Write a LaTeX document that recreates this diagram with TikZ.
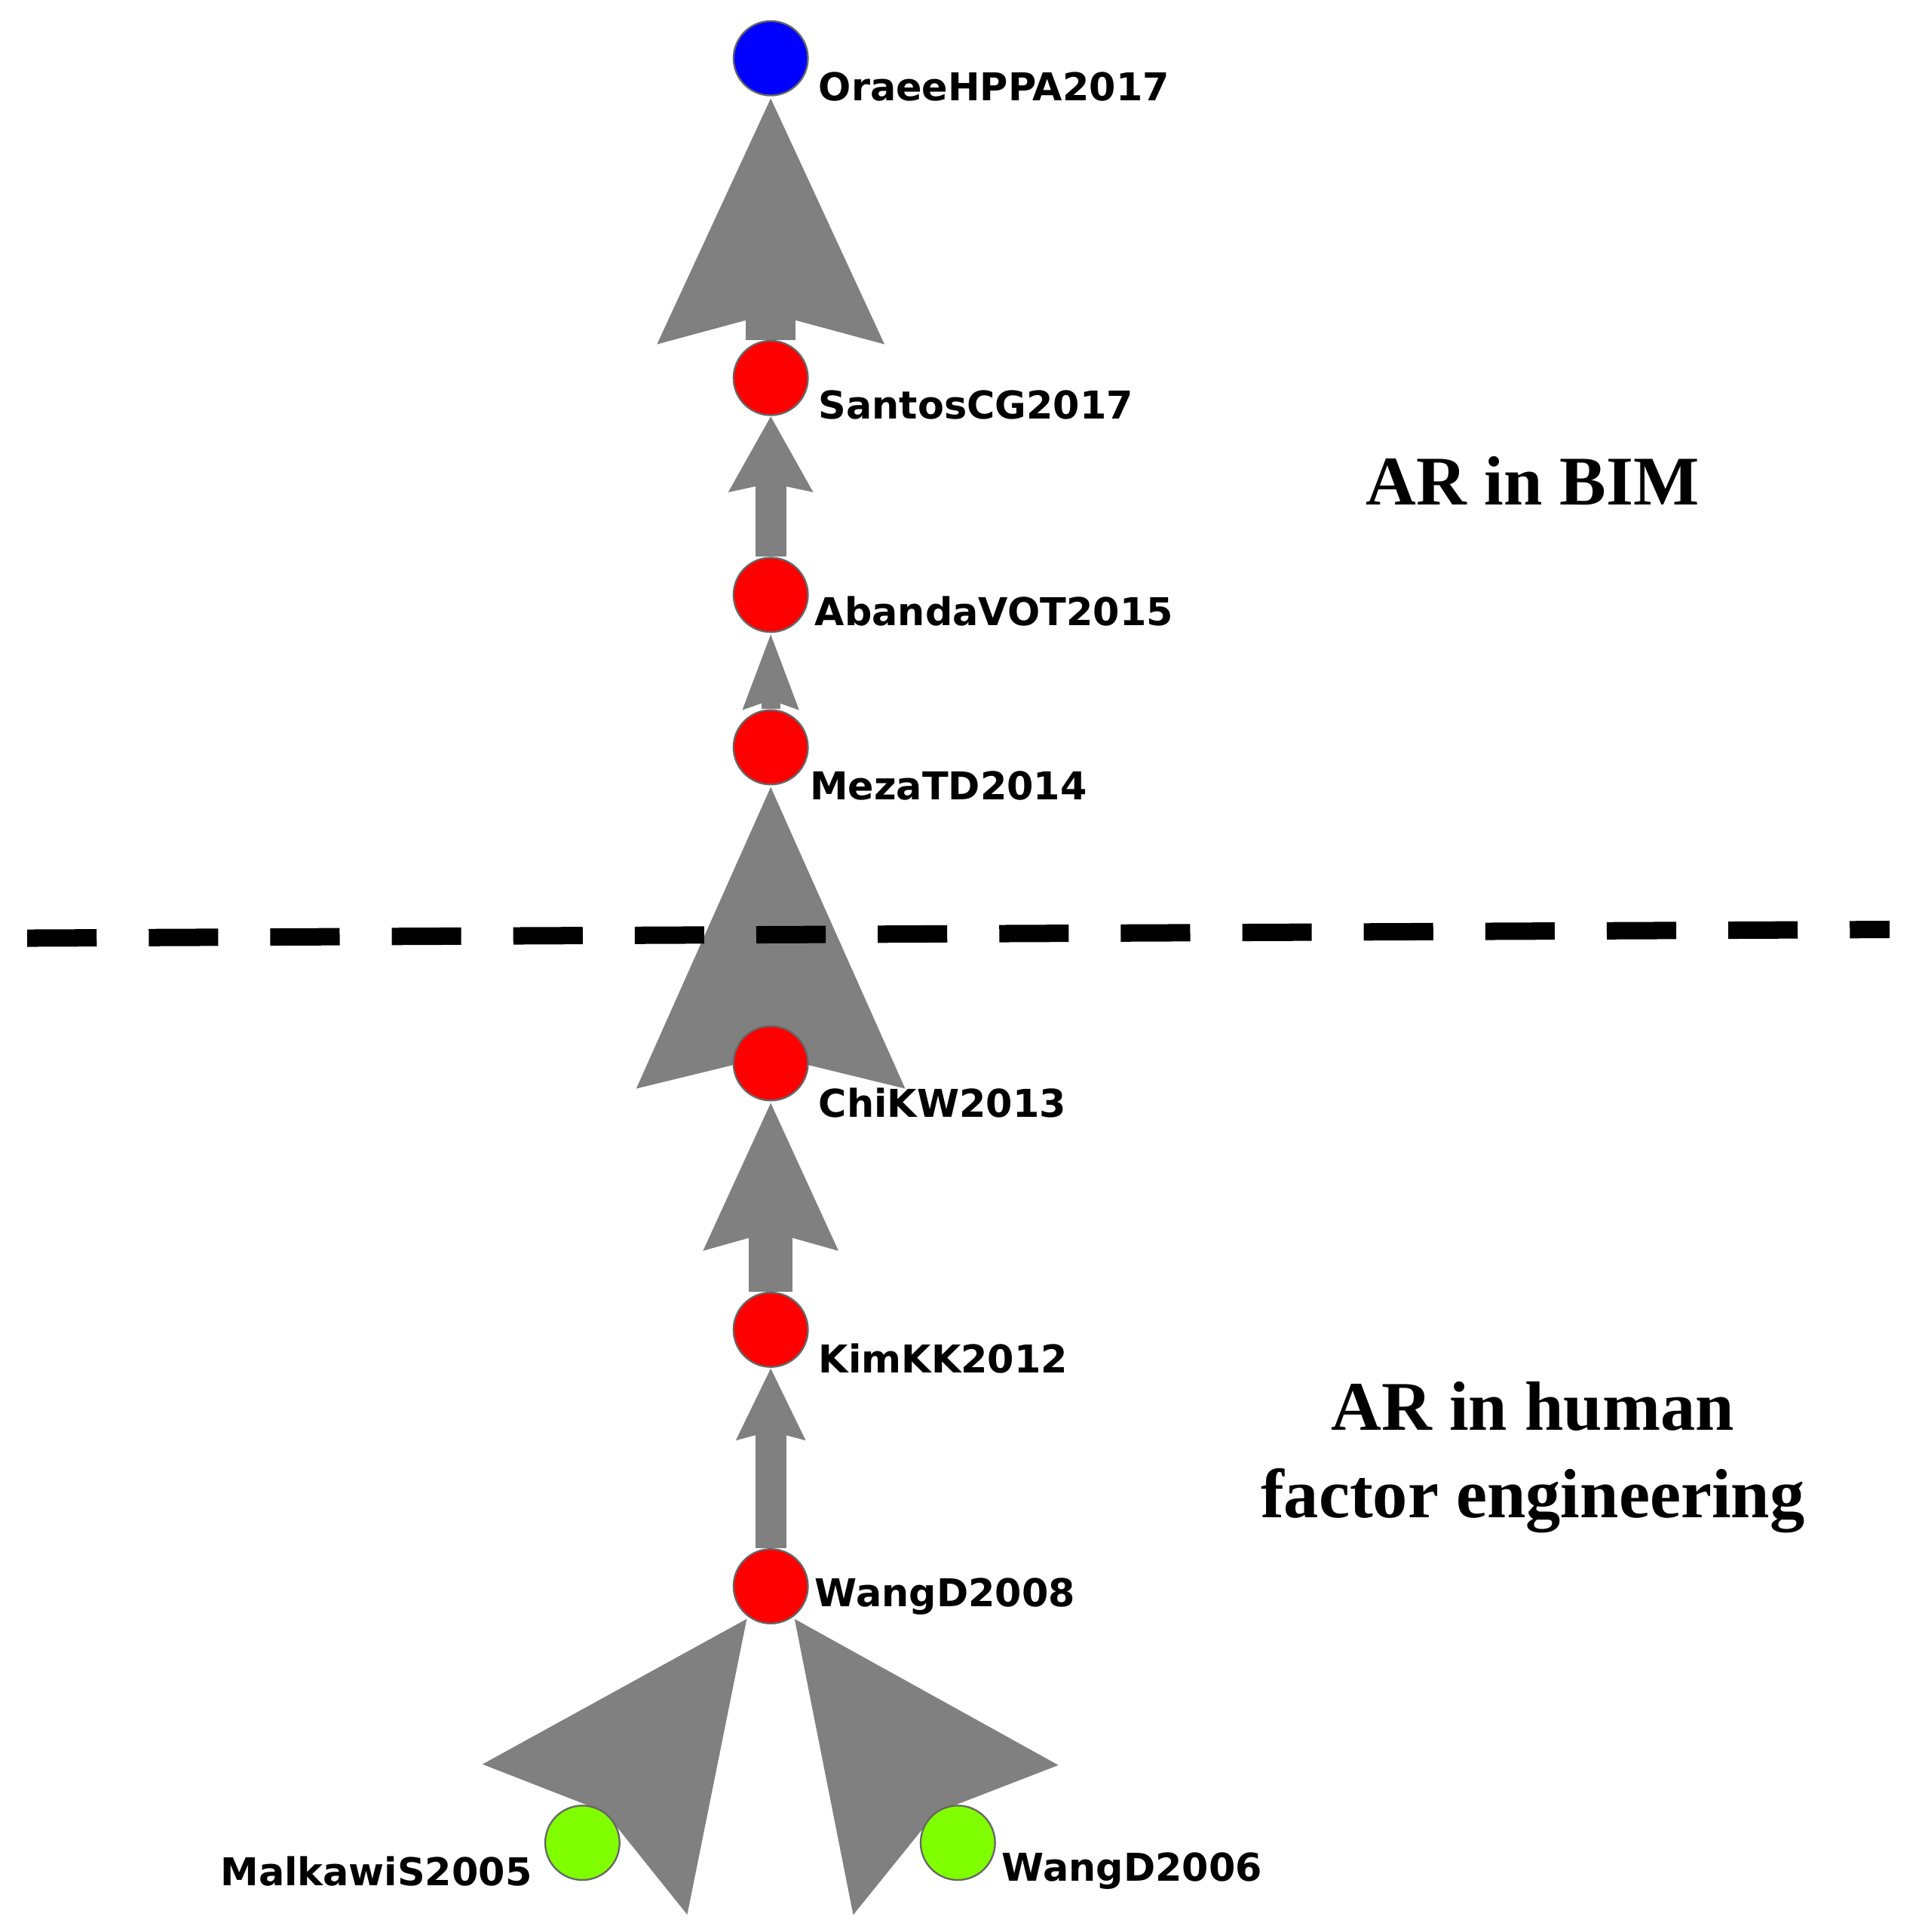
\documentclass[tikz,border=0pt]{standalone}
\usepackage{fontspec}
\setmainfont{Liberation Serif}
\newfontfamily\lblfont{DejaVu Sans}
\usetikzlibrary{arrows.meta,backgrounds}

\definecolor{gry}{RGB}{128,128,128}
\definecolor{grn}{RGB}{128,255,0}
\tikzset{
  paper/.style={circle, minimum size=0.6cm, inner sep=0pt, draw=black!60, line width=0.4pt},
  lbl/.style={font=\lblfont\bfseries\fontsize{8.8}{10}\selectfont, inner sep=0pt},
  flow/.style n args={4}{draw=gry, line width=#1,
    -{Stealth[length=#2, width=#3, inset=#4, fill=gry]}},
  topic/.style={font=\bfseries\fontsize{16}{20}\selectfont, align=center}
}

\begin{document}
\begin{tikzpicture}[x=0.01cm, y=-0.01cm]
  \useasboundingbox (0,0) rectangle (1553,1559);
  % papers
  \node[paper, fill=blue] (oraee) at (622,47) {};
  \node[paper, fill=red] (santos) at (622,305) {};
  \node[paper, fill=red] (abanda) at (622,480) {};
  \node[paper, fill=red] (meza) at (622,603) {};
  \node[paper, fill=red] (chi) at (622,858) {};
  \node[paper, fill=red] (kim) at (622,1073) {};
  \node[paper, fill=red] (wang8) at (622,1280) {};
  \node[paper, fill=grn] (malkawi) at (470,1487) {};
  \node[paper, fill=grn] (wang6) at (773,1487) {};
  % labels
  \node[lbl, anchor=west] (oraee-l) at (660,70) {OraeeHPPA2017};
  \node[lbl, anchor=west] (santos-l) at (660,327) {SantosCG2017};
  \node[lbl, anchor=west] (abanda-l) at (657,493) {AbandaVOT2015};
  \node[lbl, anchor=west] (meza-l) at (653,634) {MezaTD2014};
  \node[lbl, anchor=west] (chi-l) at (660,890) {ChiKW2013};
  \node[lbl, anchor=west] (kim-l) at (660,1096) {KimKK2012};
  \node[lbl, anchor=west] (wang8-l) at (657,1288) {WangD2008};
  \node[lbl, anchor=east] (malkawi-l) at (430,1510) {MalkawiS2005};
  \node[lbl, anchor=west] (wang6-l) at (808,1510) {WangD2006};
  % topics
  \node[topic] (bim) at (1237,388) {AR in BIM};
  \node[topic] (hfe) at (1237,1176) {AR in human\\factor engineering};
  % divider
  \coordinate (dl) at (22,757);
  \coordinate (dr) at (1525,750);
  \draw[line width=0.14cm, dash pattern=on 0.56cm off 0.42cm] (dl) -- (dr);
  % citations
  \begin{scope}[on background layer]
    \draw[flow={0.4cm}{1.95cm}{1.73cm}{0.2cm}] (santos) -- (oraee);
    \draw[flow={0.25cm}{0.6cm}{0.65cm}{0.06cm}] (abanda) -- (santos);
    \draw[flow={0.15cm}{0.6cm}{0.42cm}{0.06cm}] (meza) -- (abanda);
    \draw[flow={0.4cm}{2.4cm}{2.07cm}{0.22cm}] (chi) -- (meza);
    \draw[flow={0.35cm}{1.17cm}{1.02cm}{0.12cm}] (kim) -- (chi);
    \draw[flow={0.25cm}{0.57cm}{0.53cm}{0.06cm}] (wang8) -- (kim);
    \draw[flow={0.45cm}{2.17cm}{1.93cm}{0.22cm}] (malkawi) -- (wang8);
    \draw[flow={0.45cm}{2.17cm}{1.93cm}{0.22cm}] (wang6) -- (wang8);
  \end{scope}
\end{tikzpicture}
\end{document}
